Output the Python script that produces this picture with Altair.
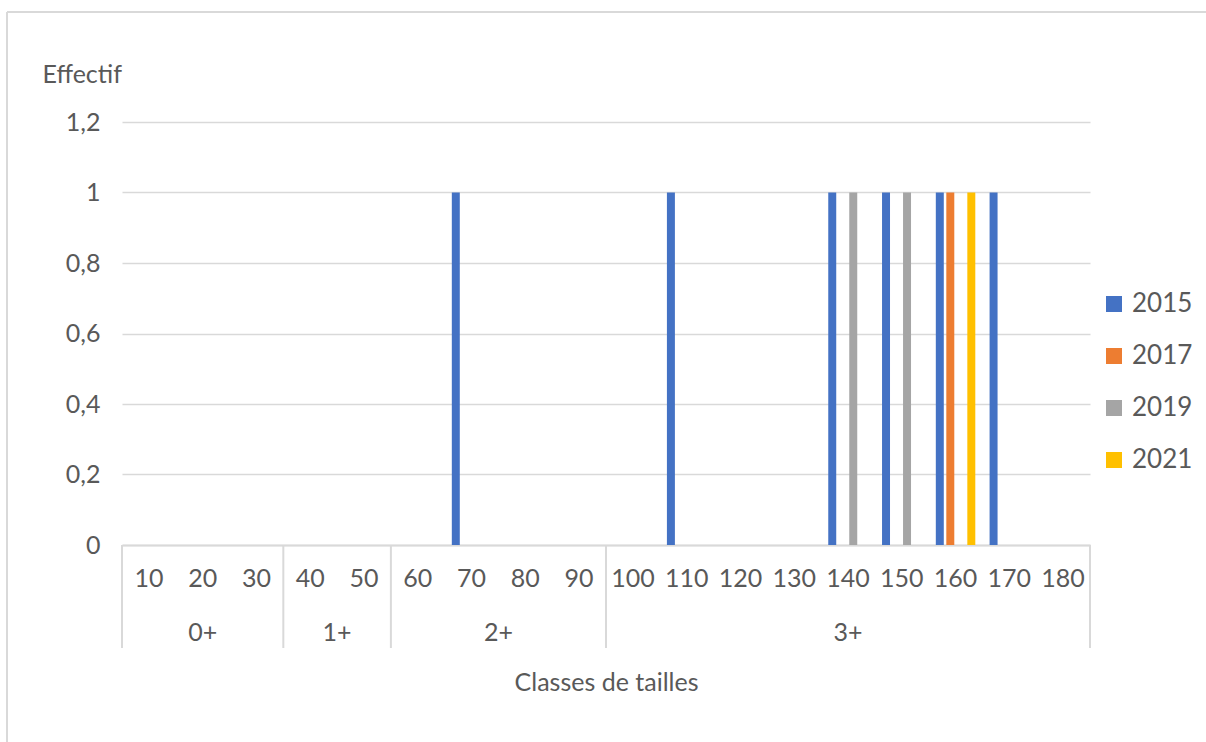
import altair as alt
import pandas as pd

# Size classes (mm) and the age class each one belongs to
tailles = [10, 20, 30, 40, 50, 60, 70, 80, 90, 100, 110, 120, 130, 140, 150, 160, 170, 180]
classes_age = ["0+", "0+", "0+", "1+", "1+", "2+", "2+", "2+", "2+",
               "3+", "3+", "3+", "3+", "3+", "3+", "3+", "3+", "3+"]

annees = ["2015", "2017", "2019", "2021"]
eff_2015 = [0, 0, 0, 0, 0, 0, 1, 0, 0, 0, 1, 0, 0, 1, 1, 1, 1, 0]
eff_2017 = [0, 0, 0, 0, 0, 0, 0, 0, 0, 0, 0, 0, 0, 0, 0, 1, 0, 0]
eff_2019 = [0, 0, 0, 0, 0, 0, 0, 0, 0, 0, 0, 0, 0, 1, 1, 0, 0, 0]
eff_2021 = [0, 0, 0, 0, 0, 0, 0, 0, 0, 0, 0, 0, 0, 0, 0, 1, 0, 0]
couleurs = ["#4472C4", "#ED7D31", "#A5A5A5", "#FFC000"]

y_ticks = [0, 0.2, 0.4, 0.6, 0.8, 1.0, 1.2]

GRID = "#d9d9d9"
TEXT = "#595959"
FONT = "Lato"
FS = 25

rows = []
for annee, valeurs in zip(annees, [eff_2015, eff_2017, eff_2019, eff_2021]):
    for t, age, v in zip(tailles, classes_age, valeurs):
        rows.append({"taille": t, "age": age, "annee": annee, "effectif": v})
df = pd.DataFrame(rows)

# Age-class groups: separators at each group start, label at the group middle
groupes = []
for age in dict.fromkeys(classes_age):
    membres = [t for t, a in zip(tailles, classes_age) if a == age]
    n = len(membres)
    groupes.append({
        "age": age,
        "debut": membres[0],
        "fin": membres[-1],
        "milieu": membres[n // 2],
        "pair": n % 2 == 0,
    })
grp = pd.DataFrame(groupes)
sep_debut = grp[["debut"]].rename(columns={"debut": "taille"})
sep_fin = grp[["fin"]].tail(1).rename(columns={"fin": "taille"})
lab_pair = grp[grp["pair"]][["age", "milieu"]].rename(columns={"milieu": "taille"})
lab_impair = grp[~grp["pair"]][["age", "milieu"]].rename(columns={"milieu": "taille"})

W, H = 968, 423
x_scale = alt.Scale(domain=tailles, paddingInner=0, paddingOuter=0)
x_axis = alt.Axis(
    title="Classes de tailles",
    labelAngle=0,
    ticks=False,
    domainColor=GRID,
    domainWidth=2,
    labelFontSize=FS,
    labelBaseline="middle",
    labelPadding=33,
    titleY=137,
    titleBaseline="middle",
    titleFontSize=FS,
    titleFontWeight="normal",
    grid=False,
)


def x_enc(band):
    return alt.X("taille:O", scale=x_scale, axis=x_axis, bandPosition=band)


bars = alt.Chart(df).mark_bar().encode(
    x=alt.X("taille:O", scale=x_scale, axis=x_axis),
    xOffset=alt.XOffset(
        "annee:N",
        scale=alt.Scale(domain=annees, paddingInner=0.24, paddingOuter=0.68),
    ),
    y=alt.Y(
        "effectif:Q",
        scale=alt.Scale(domain=[0, 1.2]),
        axis=alt.Axis(
            values=y_ticks,
            labelExpr="replace(format(datum.value, '~g'), '.', ',')",
            title="Effectif",
            titleAngle=0,
            titleAlign="left",
            titleBaseline="middle",
            titleX=-80,
            titleY=-48,
            titleFontSize=FS,
            titleFontWeight="normal",
            labelFontSize=FS,
            labelPadding=22,
            ticks=False,
            domain=False,
            gridColor=GRID,
            gridWidth=1.3,
        ),
    ),
    color=alt.Color(
        "annee:N",
        scale=alt.Scale(domain=annees, range=couleurs),
        legend=alt.Legend(
            title=None,
            orient="none",
            legendX=979,
            legendY=169,
            symbolType="square",
            symbolSize=256,
            symbolStrokeWidth=0,
            labelFontSize=26,
            labelOffset=5,
            rowPadding=26,
        ),
    ),
)

sep_a = alt.Chart(sep_debut).mark_rule(color=GRID, strokeWidth=2).encode(
    x=x_enc(0),
    y=alt.value(H),
    y2=alt.value(H + 103),
)
sep_b = alt.Chart(sep_fin).mark_rule(color=GRID, strokeWidth=2).encode(
    x=x_enc(1),
    y=alt.value(H),
    y2=alt.value(H + 103),
)
txt_a = alt.Chart(lab_impair).mark_text(font=FONT, fontSize=FS, color=TEXT).encode(
    x=x_enc(0.5),
    y=alt.value(H + 88),
    text="age:N",
)
txt_b = alt.Chart(lab_pair).mark_text(font=FONT, fontSize=FS, color=TEXT).encode(
    x=x_enc(0),
    y=alt.value(H + 88),
    text="age:N",
)

# Outer frame of the chart area
cadre_haut = alt.Chart(alt.Data(values=[{}])).mark_rule(color=GRID, strokeWidth=2).encode(
    x=alt.value(-115), x2=alt.value(1100), y=alt.value(-110)
)
cadre_gauche = alt.Chart(alt.Data(values=[{}])).mark_rule(color=GRID, strokeWidth=2).encode(
    x=alt.value(-115), y=alt.value(-110), y2=alt.value(640)
)

chart = alt.layer(bars, sep_a, sep_b, txt_a, txt_b, cadre_haut, cadre_gauche).properties(
    width=W,
    height=H,
    autosize=alt.AutoSizeParams(type="none"),
    padding={"left": 122, "top": 122, "right": 116, "bottom": 197},
).configure(
    font=FONT,
).configure_axis(
    labelColor=TEXT,
    titleColor=TEXT,
    labelFont=FONT,
    titleFont=FONT,
).configure_legend(
    labelColor=TEXT,
    labelFont=FONT,
).configure_view(
    stroke=None,
)

chart.save("out.html", embed_options={"renderer": "svg", "actions": False})
